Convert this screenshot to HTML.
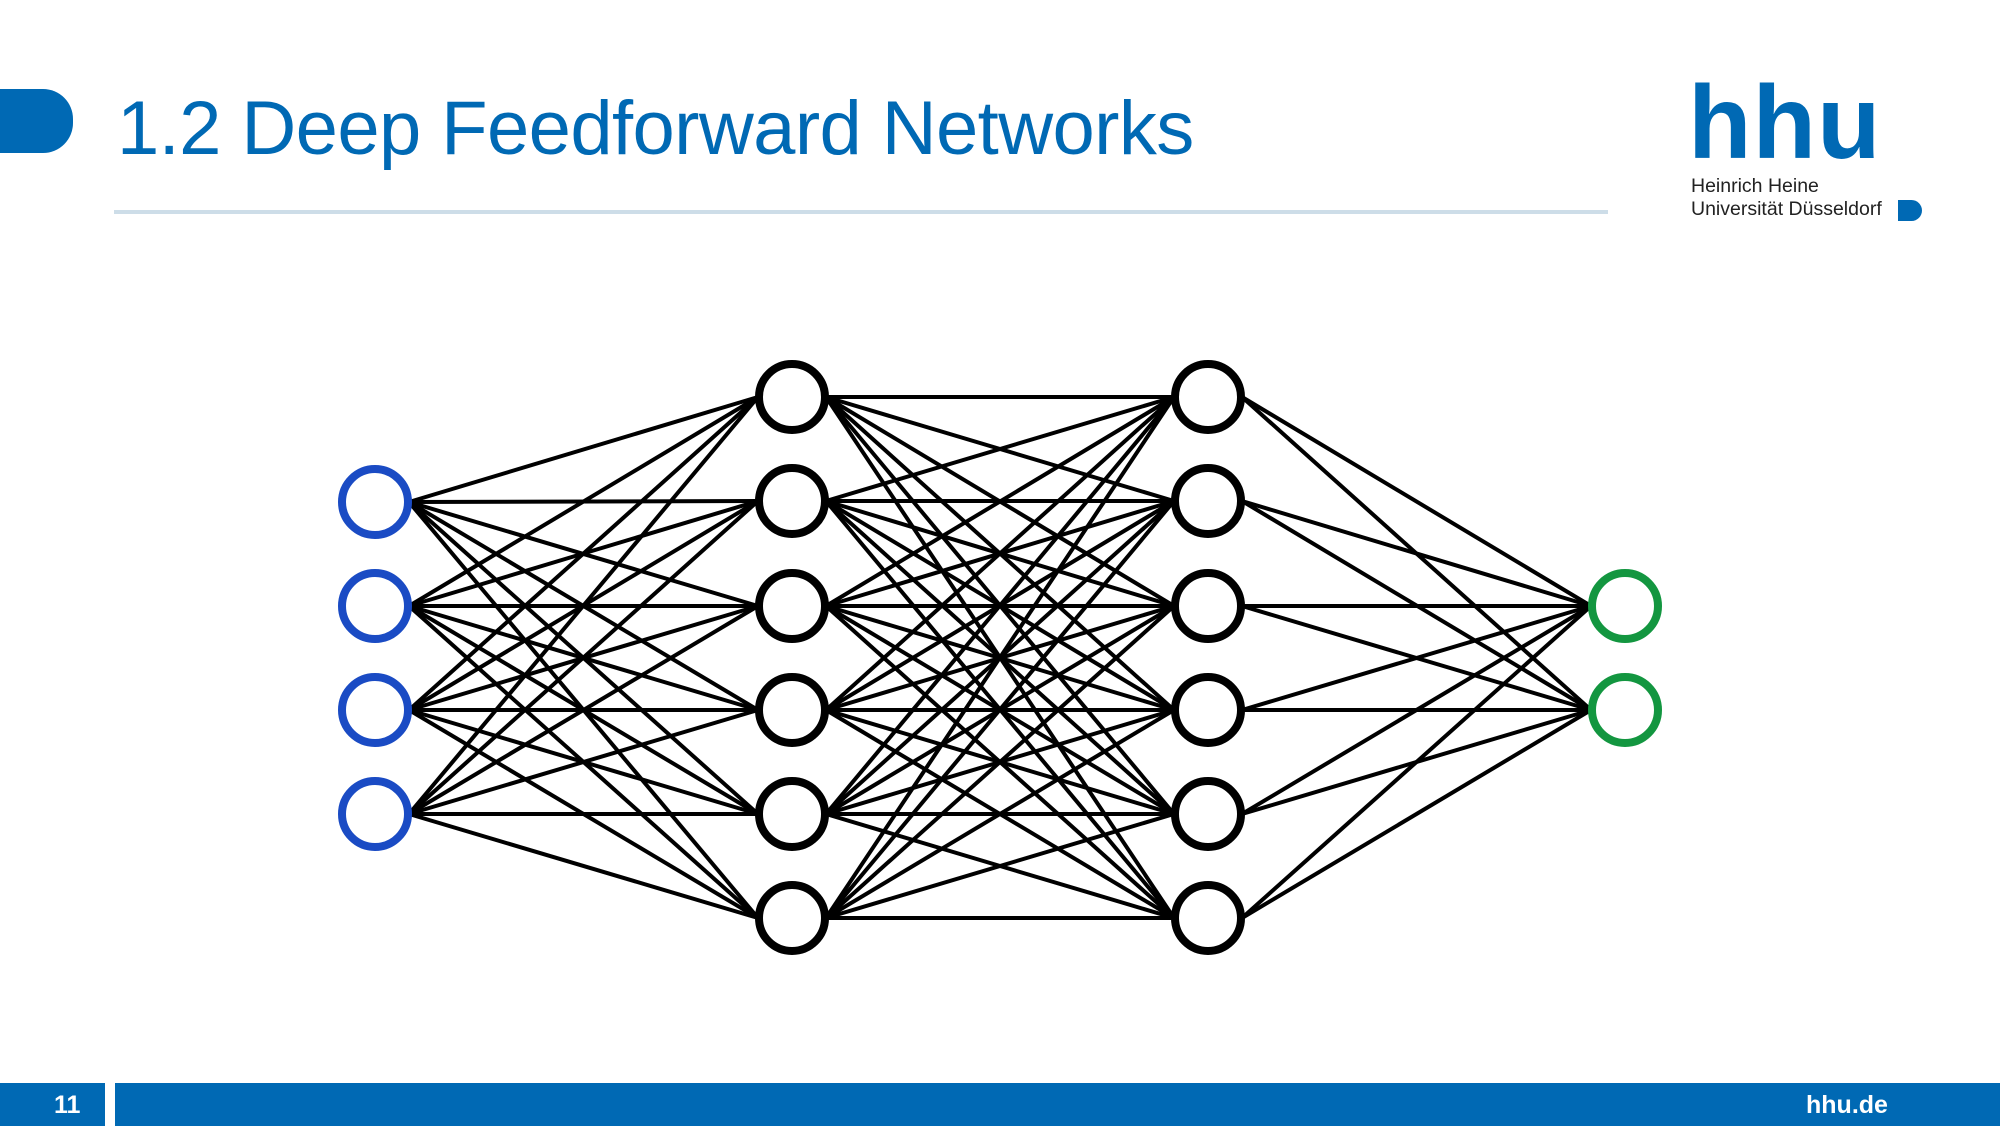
<!DOCTYPE html>
<html><head><meta charset="utf-8">
<style>
html,body{margin:0;padding:0;background:#fff;}
body{width:2000px;height:1126px;position:relative;overflow:hidden;font-family:"Liberation Sans",sans-serif;}
.tab{position:absolute;left:0;top:89px;width:73px;height:64px;background:#0069b4;border-radius:0 30px 30px 0;}
.title{position:absolute;left:117px;top:85px;font-size:76px;color:#0069b4;white-space:nowrap;letter-spacing:-0.6px;}
.rule{position:absolute;left:114px;top:210px;width:1494px;height:4px;background:#cddde8;}
.hhu{position:absolute;left:1688px;top:71px;font-size:104px;font-weight:bold;color:#0069b4;letter-spacing:1px;line-height:1;}
.sub{position:absolute;left:1691px;font-size:19.5px;color:#222;white-space:nowrap;}
.dlogo{position:absolute;left:1898px;top:200px;width:24px;height:21px;background:#0069b4;border-radius:0 11px 11px 0;}
.foot{position:absolute;top:1083px;height:43px;background:#0069b4;}
.ft{position:absolute;color:#fff;font-weight:bold;font-size:25px;top:1091px;}
</style></head><body>
<div class="tab"></div>
<div class="title">1.2 Deep Feedforward Networks</div>
<div class="rule"></div>
<div class="hhu">hhu</div>
<div class="sub" style="top:175px">Heinrich Heine</div>
<div class="sub" style="top:198px">Universität Düsseldorf</div>
<div class="dlogo"></div>
<div class="foot" style="left:0;width:105px"></div>
<div class="foot" style="left:115px;width:1885px"></div>
<div class="ft" style="left:54px">11</div>
<div class="ft" style="left:1806px">hhu.de</div>
<svg id="net" width="2000" height="1126" style="position:absolute;left:0;top:0" xmlns="http://www.w3.org/2000/svg"></svg>
<script>
var L=[{x:375,ys:[502,606,710,814],c:"#1a4bc4"},
{x:792,ys:[397,501,606,710,814,918],c:"#000"},
{x:1208,ys:[397,501,606,710,814,918],c:"#000"},
{x:1625,ys:[606,710],c:"#139640"}];
var r=34,s="";
for(var i=0;i<3;i++){var a=L[i],b=L[i+1];
for(var j=0;j<a.ys.length;j++)for(var k=0;k<b.ys.length;k++)
s+='<line x1="'+(a.x+r)+'" y1="'+a.ys[j]+'" x2="'+(b.x-r)+'" y2="'+b.ys[k]+'" stroke="#000" stroke-width="4"/>';}
for(var i=0;i<4;i++)for(var j=0;j<L[i].ys.length;j++)
s+='<circle cx="'+L[i].x+'" cy="'+L[i].ys[j]+'" r="'+(r-1)+'" fill="#fff" stroke="'+L[i].c+'" stroke-width="8"/>';
document.getElementById("net").innerHTML=s;
</script>
</body></html>
